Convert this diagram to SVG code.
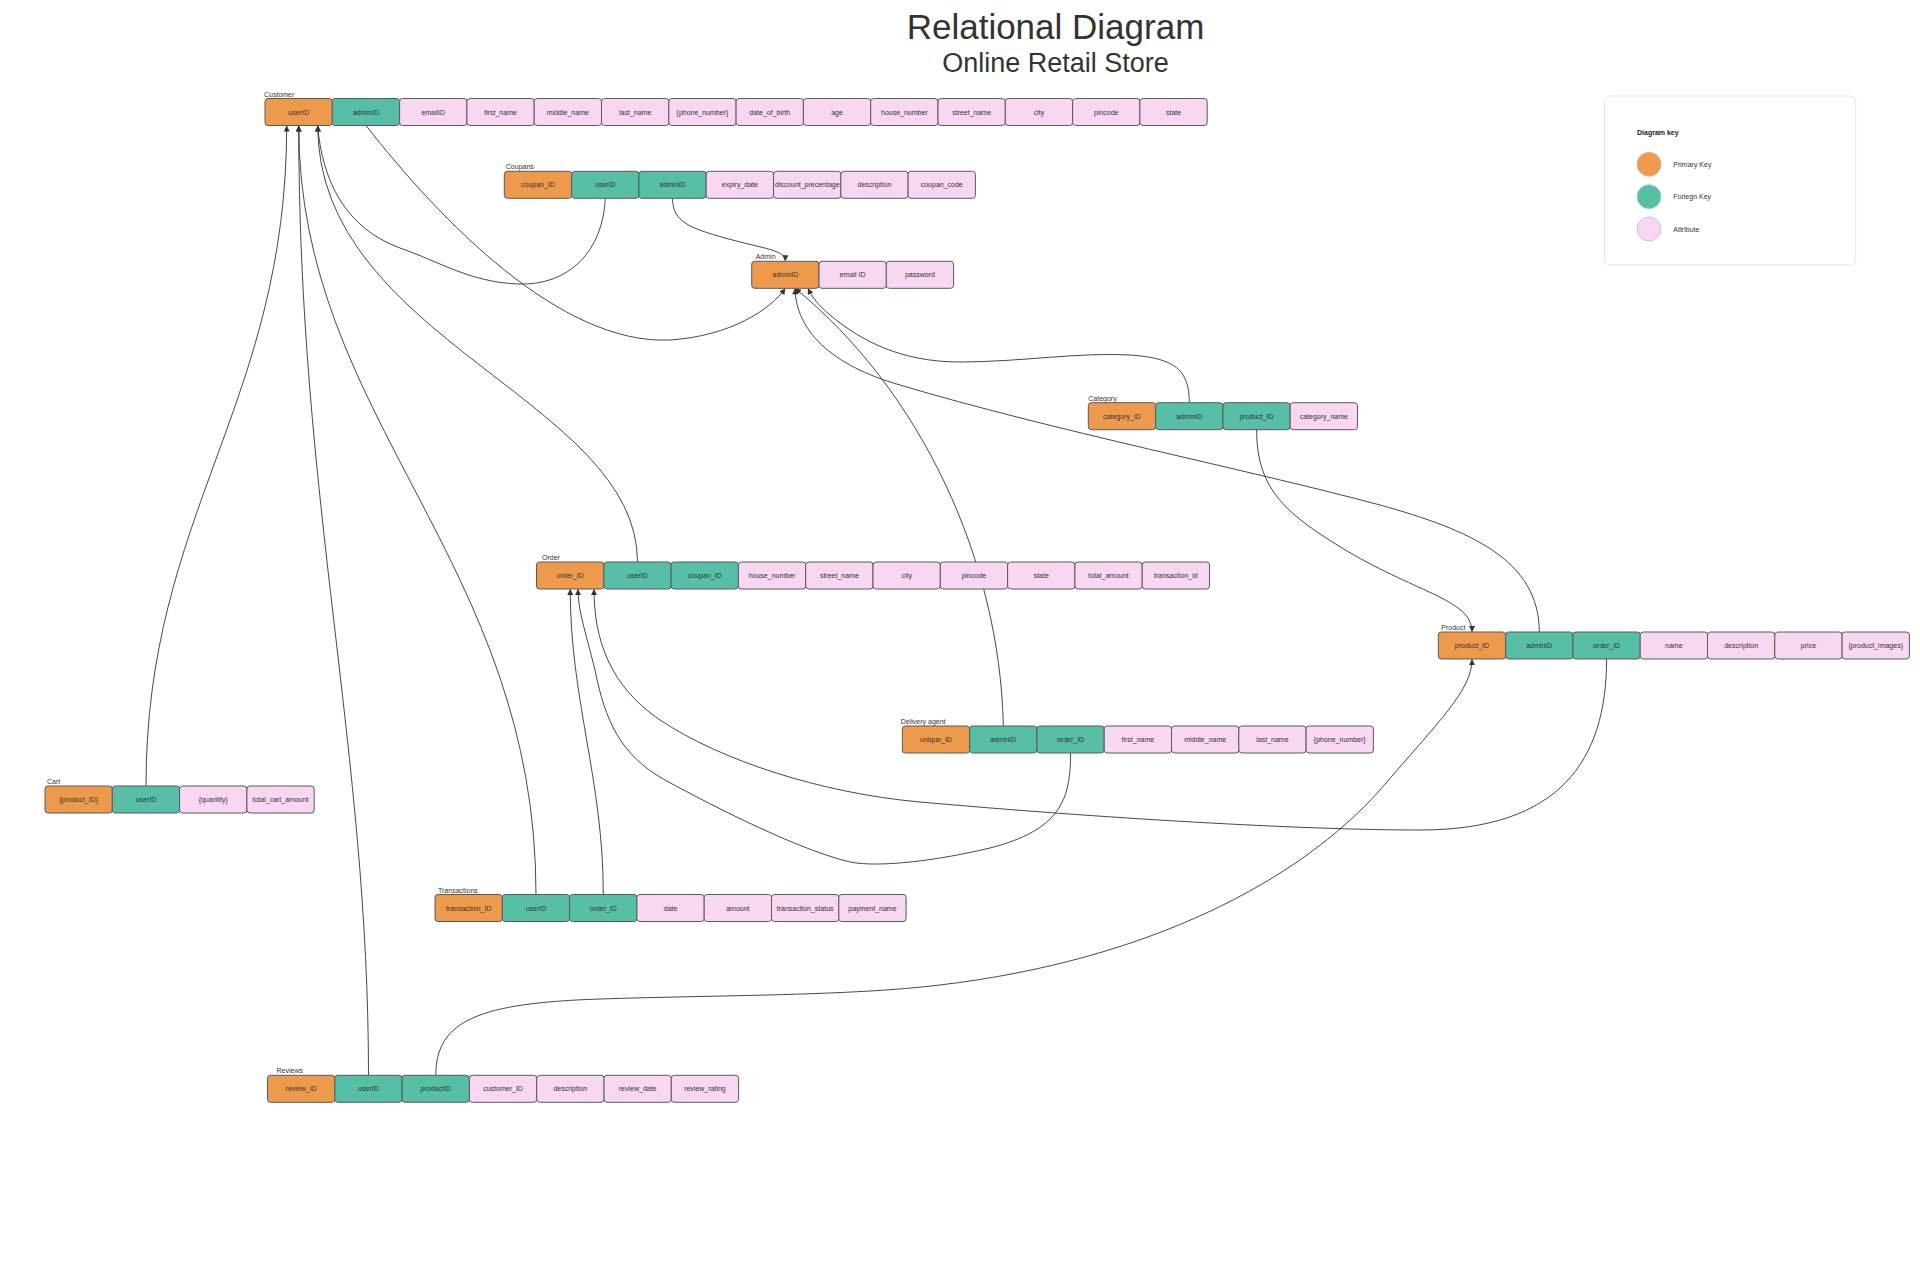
<svg xmlns="http://www.w3.org/2000/svg" width="1920" height="1270" viewBox="0 0 1920 1270">
<defs>
<marker id="arr" viewBox="0 0 10 10" refX="10" refY="5" markerWidth="7" markerHeight="6" markerUnits="userSpaceOnUse" orient="auto">
<path d="M0,0 L10,5 L0,10 z" fill="#333"/>
</marker>
</defs>
<style>
rect.pk{fill:#EE9A4D;stroke:#5a5a5a;stroke-width:1}
rect.fk{fill:#56BFA6;stroke:#5a5a5a;stroke-width:1}
rect.at{fill:#F7D7F1;stroke:#5a5a5a;stroke-width:1}
text{font-family:"Liberation Sans",Arial,sans-serif}
.t{font-size:7px;fill:#333;text-anchor:middle}
.lbl{font-size:7px;fill:#333}
.c{fill:none;stroke:#333;stroke-width:0.9;marker-end:url(#arr)}
.title{fill:#333;text-anchor:middle}
</style>
<rect width="1920" height="1270" fill="#fff"/>
<text class="title" x="1055.5" y="39" font-size="35">Relational Diagram</text>
<text class="title" x="1055.5" y="72" font-size="27">Online Retail Store</text>

<g id="connectors">
<path class="c" d="M 146,786 C 146,514 286.7,404 286.7,125.5"/>
<path class="c" d="M 368.5,1075.3 C 368.5,750 298.7,500 298.7,125.5"/>
<path class="c" d="M 536,894.5 C 536,560 298.7,420 298.7,125.5"/>
<path class="c" d="M 605.3,198.3 C 603,250 570,286 518,284 C 470,282 440,262 400,248 C 345,228 322,180 317.7,125.5"/>
<path class="c" d="M 637.5,562 C 637.5,400 317.7,340 317.7,125.5"/>
<path class="c" d="M 366,125.5 C 440,220 560,345 670,340 C 730,336 770,310 785.4,288.3"/>
<path class="c" d="M 672.5,198.3 C 672.5,222 690,228 725,238 C 765,249 785.4,250 785.4,261.3"/>
<path class="c" d="M 1189.3,402.7 C 1189.3,370 1175,358 1130,355 C 1080,352 1020,362 960,362 C 900,362 860,340 830,315 C 818,305 812,297 808,288.3"/>
<path class="c" d="M 1003.3,726 C 1000,560 920,390 795,288.3"/>
<path class="c" d="M 1539.3,632 C 1539.3,560 1470,530 1380,505 C 1250,470 1050,430 900,385 C 830,365 796,330 795,288.3"/>
<path class="c" d="M 1256.6,429.7 C 1256.6,490 1286,514 1347,551 C 1420,594 1472,600 1472,632"/>
<path class="c" d="M 435.8,1075.3 C 435.8,1020 480,1003 600,999 C 720,995 850,996 940,985 C 1150,960 1300,880 1380,790 C 1440,720 1472,690 1472,659"/>
<path class="c" d="M 603.3,894.5 C 603.3,780 570.2,700 570.2,589"/>
<path class="c" d="M 1070.6,753 C 1070.6,800 1060,830 990,848 C 940,860 880,868 850,862 C 800,850 720,810 665,780 C 620,755 605,720 595,670 C 585,630 578,610 578,589"/>
<path class="c" d="M 1606.6,659 C 1606.6,760 1560,830 1420,830 C 1300,830 1100,818 920,802 C 820,793 720,760 660,720 C 610,686 594,640 594,589"/>
</g>

<g id="customer" transform="translate(265,98.5)">
<text class="lbl" x="-1" y="-2">Customer</text>
<rect class="pk" x="0" y="0" width="67.3" height="27" rx="3"/><text class="t" x="33.65" y="16">userID</text>
<rect class="fk" x="67.3" y="0" width="67.3" height="27" rx="3"/><text class="t" x="100.95" y="16">adminID</text>
<rect class="at" x="134.6" y="0" width="67.3" height="27" rx="3"/><text class="t" x="168.25" y="16">emailID</text>
<rect class="at" x="201.9" y="0" width="67.3" height="27" rx="3"/><text class="t" x="235.55" y="16">first_name</text>
<rect class="at" x="269.2" y="0" width="67.3" height="27" rx="3"/><text class="t" x="302.85" y="16">middle_name</text>
<rect class="at" x="336.5" y="0" width="67.3" height="27" rx="3"/><text class="t" x="370.15" y="16">last_name</text>
<rect class="at" x="403.8" y="0" width="67.3" height="27" rx="3"/><text class="t" x="437.45" y="16">{phone_number}</text>
<rect class="at" x="471.1" y="0" width="67.3" height="27" rx="3"/><text class="t" x="504.75" y="16">date_of_birth</text>
<rect class="at" x="538.4" y="0" width="67.3" height="27" rx="3"/><text class="t" x="572.05" y="16">age</text>
<rect class="at" x="605.7" y="0" width="67.3" height="27" rx="3"/><text class="t" x="639.35" y="16">house_number</text>
<rect class="at" x="673" y="0" width="67.3" height="27" rx="3"/><text class="t" x="706.65" y="16">street_name</text>
<rect class="at" x="740.3" y="0" width="67.3" height="27" rx="3"/><text class="t" x="773.95" y="16">city</text>
<rect class="at" x="807.6" y="0" width="67.3" height="27" rx="3"/><text class="t" x="841.25" y="16">pincode</text>
<rect class="at" x="874.9" y="0" width="67.3" height="27" rx="3"/><text class="t" x="908.55" y="16">state</text>
</g>

<g id="coupans" transform="translate(504.3,171.3)">
<text class="lbl" x="1.5" y="-2">Coupans</text>
<rect class="pk" x="0" y="0" width="67.3" height="27" rx="3"/><text class="t" x="33.65" y="16">coupan_ID</text>
<rect class="fk" x="67.3" y="0" width="67.3" height="27" rx="3"/><text class="t" x="100.95" y="16">userID</text>
<rect class="fk" x="134.6" y="0" width="67.3" height="27" rx="3"/><text class="t" x="168.25" y="16">adminID</text>
<rect class="at" x="201.9" y="0" width="67.3" height="27" rx="3"/><text class="t" x="235.55" y="16">expiry_date</text>
<rect class="at" x="269.2" y="0" width="67.3" height="27" rx="3"/><text class="t" x="302.85" y="16">discount_precentage</text>
<rect class="at" x="336.5" y="0" width="67.3" height="27" rx="3"/><text class="t" x="370.15" y="16">description</text>
<rect class="at" x="403.8" y="0" width="67.3" height="27" rx="3"/><text class="t" x="437.45" y="16">coupan_code</text>
</g>

<g id="admin" transform="translate(751.7,261.3)">
<text class="lbl" x="4" y="-2">Admin</text>
<rect class="pk" x="0" y="0" width="67.3" height="27" rx="3"/><text class="t" x="33.65" y="16">adminID</text>
<rect class="at" x="67.3" y="0" width="67.3" height="27" rx="3"/><text class="t" x="100.95" y="16">email ID</text>
<rect class="at" x="134.6" y="0" width="67.3" height="27" rx="3"/><text class="t" x="168.25" y="16">password</text>
</g>

<g id="category" transform="translate(1088.3,402.7)">
<text class="lbl" x="0" y="-2">Category</text>
<rect class="pk" x="0" y="0" width="67.3" height="27" rx="3"/><text class="t" x="33.65" y="16">category_ID</text>
<rect class="fk" x="67.3" y="0" width="67.3" height="27" rx="3"/><text class="t" x="100.95" y="16">adminID</text>
<rect class="fk" x="134.6" y="0" width="67.3" height="27" rx="3"/><text class="t" x="168.25" y="16">product_ID</text>
<rect class="at" x="201.9" y="0" width="67.3" height="27" rx="3"/><text class="t" x="235.55" y="16">category_name</text>
</g>

<g id="order" transform="translate(536.5,562)">
<text class="lbl" x="5.5" y="-2">Order</text>
<rect class="pk" x="0" y="0" width="67.3" height="27" rx="3"/><text class="t" x="33.65" y="16">order_ID</text>
<rect class="fk" x="67.3" y="0" width="67.3" height="27" rx="3"/><text class="t" x="100.95" y="16">userID</text>
<rect class="fk" x="134.6" y="0" width="67.3" height="27" rx="3"/><text class="t" x="168.25" y="16">coupan_ID</text>
<rect class="at" x="201.9" y="0" width="67.3" height="27" rx="3"/><text class="t" x="235.55" y="16">house_number</text>
<rect class="at" x="269.2" y="0" width="67.3" height="27" rx="3"/><text class="t" x="302.85" y="16">street_name</text>
<rect class="at" x="336.5" y="0" width="67.3" height="27" rx="3"/><text class="t" x="370.15" y="16">city</text>
<rect class="at" x="403.8" y="0" width="67.3" height="27" rx="3"/><text class="t" x="437.45" y="16">pincode</text>
<rect class="at" x="471.1" y="0" width="67.3" height="27" rx="3"/><text class="t" x="504.75" y="16">state</text>
<rect class="at" x="538.4" y="0" width="67.3" height="27" rx="3"/><text class="t" x="572.05" y="16">total_amount</text>
<rect class="at" x="605.7" y="0" width="67.3" height="27" rx="3"/><text class="t" x="639.35" y="16">transaction_id</text>
</g>

<g id="product" transform="translate(1438.3,632)">
<text class="lbl" x="3" y="-2">Product</text>
<rect class="pk" x="0" y="0" width="67.3" height="27" rx="3"/><text class="t" x="33.65" y="16">product_ID</text>
<rect class="fk" x="67.3" y="0" width="67.3" height="27" rx="3"/><text class="t" x="100.95" y="16">adminID</text>
<rect class="fk" x="134.6" y="0" width="67.3" height="27" rx="3"/><text class="t" x="168.25" y="16">order_ID</text>
<rect class="at" x="201.9" y="0" width="67.3" height="27" rx="3"/><text class="t" x="235.55" y="16">name</text>
<rect class="at" x="269.2" y="0" width="67.3" height="27" rx="3"/><text class="t" x="302.85" y="16">description</text>
<rect class="at" x="336.5" y="0" width="67.3" height="27" rx="3"/><text class="t" x="370.15" y="16">price</text>
<rect class="at" x="403.8" y="0" width="67.3" height="27" rx="3"/><text class="t" x="437.45" y="16">{product_images}</text>
</g>

<g id="delivery-agent" transform="translate(902.3,726)">
<text class="lbl" x="-1.5" y="-2">Delivery agent</text>
<rect class="pk" x="0" y="0" width="67.3" height="27" rx="3"/><text class="t" x="33.65" y="16">unique_ID</text>
<rect class="fk" x="67.3" y="0" width="67.3" height="27" rx="3"/><text class="t" x="100.95" y="16">adminID</text>
<rect class="fk" x="134.6" y="0" width="67.3" height="27" rx="3"/><text class="t" x="168.25" y="16">order_ID</text>
<rect class="at" x="201.9" y="0" width="67.3" height="27" rx="3"/><text class="t" x="235.55" y="16">first_name</text>
<rect class="at" x="269.2" y="0" width="67.3" height="27" rx="3"/><text class="t" x="302.85" y="16">middle_name</text>
<rect class="at" x="336.5" y="0" width="67.3" height="27" rx="3"/><text class="t" x="370.15" y="16">last_name</text>
<rect class="at" x="403.8" y="0" width="67.3" height="27" rx="3"/><text class="t" x="437.45" y="16">{phone_number}</text>
</g>

<g id="cart" transform="translate(45,786)">
<text class="lbl" x="2" y="-2">Cart</text>
<rect class="pk" x="0" y="0" width="67.3" height="27" rx="3"/><text class="t" x="33.65" y="16">{product_ID}</text>
<rect class="fk" x="67.3" y="0" width="67.3" height="27" rx="3"/><text class="t" x="100.95" y="16">userID</text>
<rect class="at" x="134.6" y="0" width="67.3" height="27" rx="3"/><text class="t" x="168.25" y="16">{quantity}</text>
<rect class="at" x="201.9" y="0" width="67.3" height="27" rx="3"/><text class="t" x="235.55" y="16">total_cart_amount</text>
</g>

<g id="transactions" transform="translate(435,894.5)">
<text class="lbl" x="3" y="-2">Transactions</text>
<rect class="pk" x="0" y="0" width="67.3" height="27" rx="3"/><text class="t" x="33.65" y="16">transaction_ID</text>
<rect class="fk" x="67.3" y="0" width="67.3" height="27" rx="3"/><text class="t" x="100.95" y="16">userID</text>
<rect class="fk" x="134.6" y="0" width="67.3" height="27" rx="3"/><text class="t" x="168.25" y="16">order_ID</text>
<rect class="at" x="201.9" y="0" width="67.3" height="27" rx="3"/><text class="t" x="235.55" y="16">date</text>
<rect class="at" x="269.2" y="0" width="67.3" height="27" rx="3"/><text class="t" x="302.85" y="16">amount</text>
<rect class="at" x="336.5" y="0" width="67.3" height="27" rx="3"/><text class="t" x="370.15" y="16">transaction_status</text>
<rect class="at" x="403.8" y="0" width="67.3" height="27" rx="3"/><text class="t" x="437.45" y="16">payment_name</text>
</g>

<g id="reviews" transform="translate(267.5,1075.3)">
<text class="lbl" x="9" y="-2">Reviews</text>
<rect class="pk" x="0" y="0" width="67.3" height="27" rx="3"/><text class="t" x="33.65" y="16">review_ID</text>
<rect class="fk" x="67.3" y="0" width="67.3" height="27" rx="3"/><text class="t" x="100.95" y="16">userID</text>
<rect class="fk" x="134.6" y="0" width="67.3" height="27" rx="3"/><text class="t" x="168.25" y="16">productID</text>
<rect class="at" x="201.9" y="0" width="67.3" height="27" rx="3"/><text class="t" x="235.55" y="16">customer_ID</text>
<rect class="at" x="269.2" y="0" width="67.3" height="27" rx="3"/><text class="t" x="302.85" y="16">description</text>
<rect class="at" x="336.5" y="0" width="67.3" height="27" rx="3"/><text class="t" x="370.15" y="16">review_date</text>
<rect class="at" x="403.8" y="0" width="67.3" height="27" rx="3"/><text class="t" x="437.45" y="16">review_rating</text>
</g>

<g id="legend">
<rect x="1604.3" y="96" width="251.4" height="169" rx="6" fill="#fff" stroke="#e3e3e6" stroke-width="1"/>
<text x="1637" y="134.5" font-size="7" font-weight="bold" fill="#222">Diagram key</text>
<circle cx="1649" cy="164.3" r="12" fill="#EE9A4D" stroke="#d9b48f" stroke-width="0.8"/>
<text class="lbl" x="1673.3" y="166.8">Primary Key</text>
<circle cx="1649" cy="196.7" r="12" fill="#56BFA6" stroke="#9fd3c5" stroke-width="0.8"/>
<text class="lbl" x="1673.3" y="199.2">Foriegn Key</text>
<circle cx="1649" cy="229" r="12" fill="#F7D7F1" stroke="#cdb8c8" stroke-width="0.8"/>
<text class="lbl" x="1673.3" y="231.5">Attribute</text>
</g>
</svg>
